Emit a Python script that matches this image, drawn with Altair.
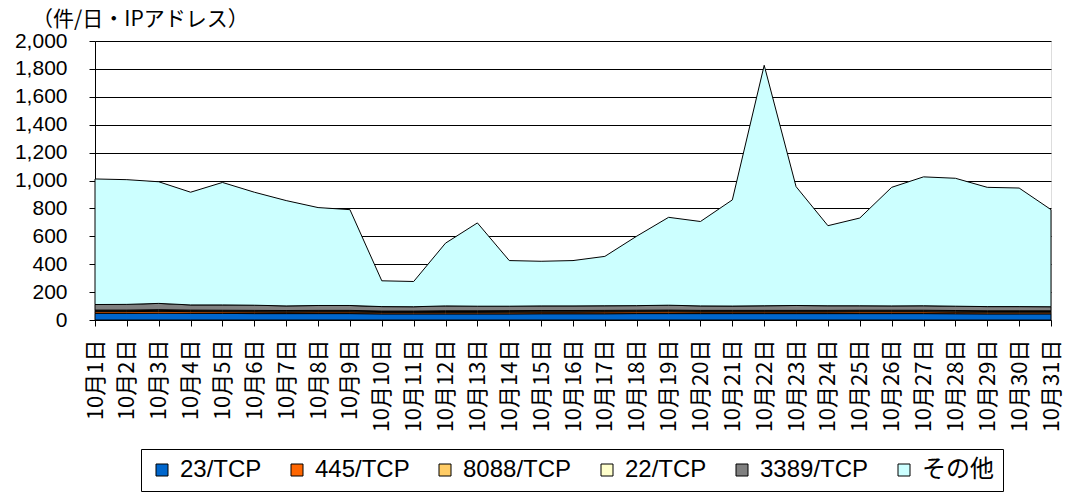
import altair as alt
import pandas as pd

days = [f"10月{d}日" for d in range(1, 32)]

series_names = ["23/TCP", "445/TCP", "8088/TCP", "22/TCP", "3389/TCP", "その他"]
series_colors = ["#0066CC", "#FF6600", "#FFCC66", "#FFFFCC", "#808080", "#CCFFFF"]

tcp23 = [48, 48, 49, 48, 47, 46, 46, 46, 46, 44, 44, 44, 44, 44, 45, 45,
         45, 46, 46, 46, 46, 46, 46, 46, 46, 46, 46, 45, 44, 44, 44]
tcp445 = [12, 12, 13, 12, 12, 12, 11, 12, 12, 11, 11, 11, 11, 12, 12, 12,
          13, 13, 13, 12, 12, 12, 12, 12, 13, 13, 13, 12, 12, 12, 12]
tcp8088 = [6, 6, 7, 6, 6, 6, 6, 6, 6, 5, 5, 6, 6, 6, 6, 6,
           6, 6, 7, 6, 6, 6, 6, 6, 6, 6, 6, 6, 5, 5, 5]
tcp22 = [5, 5, 5, 5, 5, 5, 5, 5, 5, 4, 4, 5, 5, 5, 5, 5,
         5, 5, 5, 5, 5, 5, 5, 5, 5, 5, 5, 5, 5, 5, 5]
tcp3389 = [40, 41, 45, 37, 38, 37, 33, 35, 35, 32, 31, 35, 33, 32, 33, 33,
           33, 33, 35, 32, 31, 33, 35, 33, 32, 31, 32, 31, 30, 30, 29]
others = [900, 894, 872, 808, 878, 810, 755, 702, 687, 185, 181, 450, 597, 327, 320, 325,
          354, 498, 630, 605, 761, 1724, 852, 574, 629, 850, 924, 917, 855, 850, 696]

series_values = [tcp23, tcp445, tcp8088, tcp22, tcp3389, others]

unit_title = ["（件/日・IPアドレス）"]

rows = []
for k, (name, vals) in enumerate(zip(series_names, series_values)):
    for d, v in zip(days, vals):
        rows.append({"day": d, "series": name, "value": v, "order": k})
df = pd.DataFrame(rows)

y_ticks = list(range(0, 2001, 200))

jp_font = "Noto Sans CJK JP"
num_font = "Liberation Sans, Noto Sans CJK JP"

area = alt.Chart(df).mark_area(stroke="black", strokeWidth=1).encode(
    x=alt.X("day:N", sort=days,
            scale=alt.Scale(type="point", padding=0),
            axis=alt.Axis(title=None, labelAngle=270, labelFont=jp_font,
                          labelFontSize=22, labelColor="black",
                          domainColor="black", tickColor="black",
                          tickSize=6, labelPadding=13, grid=False)),
    y=alt.Y("value:Q", stack="zero",
            scale=alt.Scale(domain=[0, 2000], nice=False),
            axis=alt.Axis(title=None, values=y_ticks, format=",d",
                          labelFont=num_font, labelFontSize=21,
                          labelColor="black", domainColor="black",
                          tickColor="black", tickSize=6, labelPadding=22,
                          grid=True, gridColor="black", gridWidth=1)),
    color=alt.Color("series:N",
                    scale=alt.Scale(domain=series_names, range=series_colors),
                    sort=series_names,
                    legend=alt.Legend(title=None, orient="none",
                                      legendX=46, legendY=408,
                                      direction="horizontal", columns=6,
                                      symbolType="square", symbolSize=144,
                                      symbolStrokeColor="black",
                                      symbolStrokeWidth=1,
                                      labelFont=num_font, labelFontSize=24,
                                      labelColor="black", labelOffset=6,
                                      columnPadding=23,
                                      strokeColor="black", padding=9,
                                      fillColor="white")),
    order=alt.Order("order:Q", sort="ascending"),
)

title = alt.Chart(pd.DataFrame({"t": unit_title})).mark_text(
    align="left", baseline="middle", font=jp_font, fontSize=21, color="black"
).encode(
    x=alt.value(-63), y=alt.value(-21), text="t:N"
)

chart = alt.layer(area, title).properties(
    width=956,
    height=279,
    autosize=alt.AutoSizeParams(type="none"),
    padding={"left": 87, "top": 33, "right": 12, "bottom": 172},
).configure_view(
    stroke="black", strokeWidth=1
).configure(background="white")

chart.save("out.html", embed_options={"renderer": "svg", "actions": False})
